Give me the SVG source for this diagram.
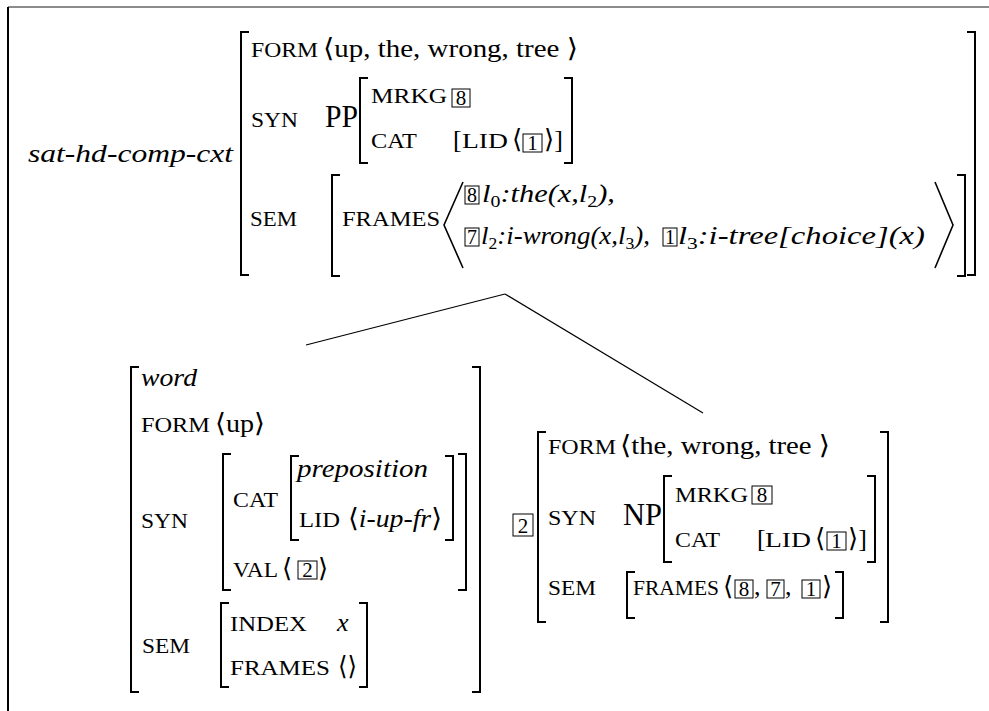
<svg xmlns="http://www.w3.org/2000/svg" width="989" height="711" viewBox="0 0 989 711">
<style>
text{font-family:"Liberation Serif","DejaVu Serif",serif;fill:#000}
.sc{font-size:20px}
.rm{font-size:26px}
.big{font-size:31px}
.it{font-style:italic}
.dg{font-size:21px;text-anchor:middle}
.sub{font-size:17px;font-style:normal}
.br{fill:none;stroke:#000;stroke-width:2}
.ang{fill:none;stroke:#000;stroke-width:1.6}
.box{fill:none;stroke:#000;stroke-width:1}
.ln{fill:none;stroke:#000;stroke-width:1.2}
</style>
<rect width="989" height="711" fill="#fff"/>
<g id="frame">
<line x1="8" y1="7" x2="989" y2="7" stroke="#666" stroke-width="1.5"/>
<line x1="8" y1="7" x2="8" y2="711" stroke="#000" stroke-width="2"/>
</g>
<g id="connectors">
<line class="ln" x1="505" y1="294" x2="306" y2="345"/>
<line class="ln" x1="505" y1="294" x2="703" y2="413"/>
</g>
<g id="node-top">
<text class="rm it" x="28" y="162" font-size="28" textLength="205" lengthAdjust="spacingAndGlyphs">sat-hd-comp-cxt</text>
<path class="br" d="M249 32H241V275H249"/>
<path class="br" d="M967 32H975V275H967"/>
<text class="sc" x="251" y="57" textLength="67" lengthAdjust="spacingAndGlyphs">FORM</text>
<text class="rm" x="323" y="57" textLength="255" lengthAdjust="spacingAndGlyphs">⟨up, the, wrong, tree ⟩</text>
<text class="sc" x="251" y="127" textLength="47" lengthAdjust="spacingAndGlyphs">SYN</text>
<text class="big" x="325" y="127" textLength="33" lengthAdjust="spacingAndGlyphs">PP</text>
<path class="br" d="M368 78H360V163H368"/>
<path class="br" d="M564 78H572V163H564"/>
<text class="sc" x="371" y="103" textLength="76" lengthAdjust="spacingAndGlyphs">MRKG</text>
<rect class="box" x="452" y="89" width="18" height="18"/><text class="dg" x="461" y="105">8</text>
<text class="sc" x="371" y="148" textLength="46" lengthAdjust="spacingAndGlyphs">CAT</text>
<text class="rm" x="453" y="148">[</text>
<text class="sc" x="462" y="148" textLength="46" lengthAdjust="spacingAndGlyphs">LID</text>
<text class="rm" x="512" y="148">⟨</text>
<rect class="box" x="523" y="134" width="19" height="18"/><text class="dg" x="532.5" y="150">1</text>
<text class="rm" x="544" y="148">⟩]</text>
<text class="sc" x="250" y="226" textLength="47" lengthAdjust="spacingAndGlyphs">SEM</text>
<path class="br" d="M340 175H332V276H340"/>
<path class="br" d="M957 175H965V276H957"/>
<text class="sc" x="342" y="226" textLength="98" lengthAdjust="spacingAndGlyphs">FRAMES</text>
<polyline class="ang" points="463,182 444,225 463,268"/>
<polyline class="ang" points="935,182 953,225 935,268"/>
<rect class="box" x="465" y="186" width="14" height="18"/><text class="dg" x="472" y="202" textLength="10" lengthAdjust="spacingAndGlyphs">8</text>
<text class="rm it" x="482" y="202" textLength="133" lengthAdjust="spacingAndGlyphs">l<tspan class="sub" dy="5">0</tspan><tspan dy="-5">:the(x,l</tspan><tspan class="sub" dy="5">2</tspan><tspan dy="-5">),</tspan></text>
<rect class="box" x="465" y="228" width="14" height="18"/><text class="dg" x="472" y="244" textLength="10" lengthAdjust="spacingAndGlyphs">7</text>
<text class="rm it" x="481" y="244" textLength="169" lengthAdjust="spacingAndGlyphs">l<tspan class="sub" dy="5">2</tspan><tspan dy="-5">:i-wrong(x,l</tspan><tspan class="sub" dy="5">3</tspan><tspan dy="-5">),</tspan></text>
<rect class="box" x="663" y="228" width="14" height="18"/><text class="dg" x="670" y="244" textLength="10" lengthAdjust="spacingAndGlyphs">1</text>
<text class="rm it" x="678" y="244" textLength="247" lengthAdjust="spacingAndGlyphs">l<tspan class="sub" dy="5">3</tspan><tspan dy="-5">:i-tree[choice](x)</tspan></text>
</g>
<g id="node-word">
<path class="br" d="M139 367H131V692H139"/>
<path class="br" d="M472 367H480V692H472"/>
<text class="rm it" x="141" y="386" textLength="56" lengthAdjust="spacingAndGlyphs">word</text>
<text class="sc" x="141" y="432" textLength="69" lengthAdjust="spacingAndGlyphs">FORM</text>
<text class="rm" x="215" y="432" textLength="50" lengthAdjust="spacingAndGlyphs">⟨up⟩</text>
<text class="sc" x="141" y="528" textLength="47" lengthAdjust="spacingAndGlyphs">SYN</text>
<path class="br" d="M231 454H223V590H231"/>
<path class="br" d="M458 454H466V590H458"/>
<text class="sc" x="233" y="507" textLength="45" lengthAdjust="spacingAndGlyphs">CAT</text>
<path class="br" d="M299 456H291V540H299"/>
<path class="br" d="M445 456H453V540H445"/>
<text class="rm it" x="297" y="477" textLength="131" lengthAdjust="spacingAndGlyphs">preposition</text>
<text class="sc" x="299" y="527" textLength="41" lengthAdjust="spacingAndGlyphs">LID</text>
<text class="rm" x="348" y="527" textLength="94" lengthAdjust="spacingAndGlyphs">⟨<tspan class="it">i-up-fr</tspan>⟩</text>
<text class="sc" x="233" y="577" textLength="45" lengthAdjust="spacingAndGlyphs">VAL</text>
<text class="rm" x="282" y="577">⟨</text>
<rect class="box" x="298" y="561" width="19" height="18"/><text class="dg" x="307.5" y="577">2</text>
<text class="rm" x="318" y="577">⟩</text>
<text class="sc" x="142" y="653" textLength="48" lengthAdjust="spacingAndGlyphs">SEM</text>
<path class="br" d="M229 603H221V687H229"/>
<path class="br" d="M359 603H367V687H359"/>
<text class="sc" x="230" y="631" textLength="77" lengthAdjust="spacingAndGlyphs">INDEX</text>
<text class="rm it" x="337" y="631">x</text>
<text class="sc" x="230" y="675" textLength="100" lengthAdjust="spacingAndGlyphs">FRAMES</text>
<text class="rm" x="338" y="675" textLength="19" lengthAdjust="spacingAndGlyphs">⟨⟩</text>
</g>
<g id="node-np">
<rect class="box" x="513" y="514" width="20" height="22"/><text class="dg" x="523" y="532.5" font-size="23">2</text>
<path class="br" d="M546 432H538V622H546"/>
<path class="br" d="M880 432H888V622H880"/>
<text class="sc" x="548" y="454" textLength="68" lengthAdjust="spacingAndGlyphs">FORM</text>
<text class="rm" x="620" y="454" textLength="210" lengthAdjust="spacingAndGlyphs">⟨the, wrong, tree ⟩</text>
<text class="sc" x="548" y="525" textLength="48" lengthAdjust="spacingAndGlyphs">SYN</text>
<text class="big" x="623" y="525" textLength="39" lengthAdjust="spacingAndGlyphs">NP</text>
<path class="br" d="M672 476H664V562H672"/>
<path class="br" d="M867 476H875V562H867"/>
<text class="sc" x="675" y="502" textLength="73" lengthAdjust="spacingAndGlyphs">MRKG</text>
<rect class="box" x="752" y="486" width="20" height="18"/><text class="dg" x="762" y="502">8</text>
<text class="sc" x="675" y="547" textLength="45" lengthAdjust="spacingAndGlyphs">CAT</text>
<text class="rm" x="757" y="547">[</text>
<text class="sc" x="765" y="547" textLength="46" lengthAdjust="spacingAndGlyphs">LID</text>
<text class="rm" x="815" y="547">⟨</text>
<rect class="box" x="827" y="532" width="19" height="18"/><text class="dg" x="836.5" y="548">1</text>
<text class="rm" x="848" y="547">⟩]</text>
<text class="sc" x="548" y="595" textLength="48" lengthAdjust="spacingAndGlyphs">SEM</text>
<path class="br" d="M635 572H627V618H635"/>
<path class="br" d="M835 572H843V618H835"/>
<text class="sc" x="633" y="595" textLength="86" lengthAdjust="spacingAndGlyphs">FRAMES</text>
<text class="rm" x="723" y="595">⟨</text>
<rect class="box" x="735" y="580" width="18" height="18"/><text class="dg" x="744" y="596">8</text>
<text class="rm" x="754" y="595">,</text>
<rect class="box" x="767" y="580" width="17" height="18"/><text class="dg" x="775.5" y="596">7</text>
<text class="rm" x="785" y="595">,</text>
<rect class="box" x="802" y="580" width="18" height="18"/><text class="dg" x="811" y="596">1</text>
<text class="rm" x="822" y="595">⟩</text>
</g>
</svg>
